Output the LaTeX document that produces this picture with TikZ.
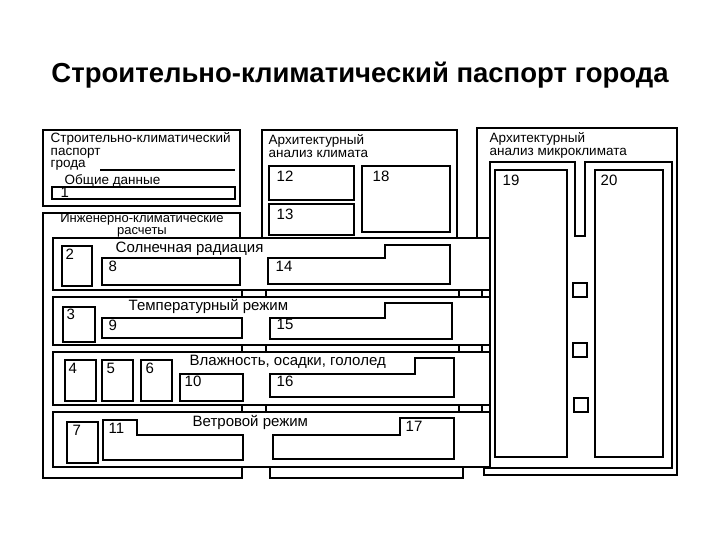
\documentclass[tikz,border=0pt]{standalone}
\usepackage{fontspec}
\setmainfont{Liberation Sans}
\begin{document}
\begin{tikzpicture}[x=1pt,y=-1pt,line width=1.4pt,
  lbl/.style={inner sep=0pt,anchor=north west,font=\fontsize{13.5}{12.5}\selectfont},
  rlbl/.style={inner sep=0pt,anchor=north west,font=\fontsize{15}{15}\selectfont},
  num/.style={inner sep=0pt,anchor=north west,font=\fontsize{15}{15}\selectfont}]
\useasboundingbox (0,0) rectangle (720,540);
\node[inner sep=0pt,font=\bfseries\fontsize{27.5}{30}\selectfont] (title) at (360,75) {Строительно-климатический паспорт города};
% Box A
\draw (43,130) rectangle (240,206);
\node[lbl,align=left] (ta) at (50,132) {Строительно-климатический\\паспорт\\грода};
\draw (100,170) -- (235,170);
\node[lbl] (od) at (64,174) {Общие данные};
\draw (52,187) rectangle (235,199);
\node[num] (n1) at (60,186) {1};
% Box B
\draw (262,238) -- (262,130) -- (457,130) -- (457,238) -- (477,238) -- (477,128) -- (677,128) -- (677,475) -- (484,475) -- (484,468);
\node[lbl,align=left] (tb) at (268,134) {Архитектурный\\анализ климата};
\draw (269,166) rectangle (354,200); \node[num] (n12) at (276,170) {12};
\draw (269,204) rectangle (354,235); \node[num] (n13) at (276,208) {13};
\draw (362,166) rectangle (450,232); \node[num] (n18) at (372,170) {18};
% Box C
\node[lbl,align=left] (tc) at (489,132) {Архитектурный\\анализ микроклимата};
\draw (490,460) -- (490,162) -- (575,162) -- (575,236) -- (585,236) -- (585,162) -- (672,162) -- (672,468) -- (484,468);
\draw (495,170) rectangle (567,457); \node[num] (n19) at (502,174) {19};
\draw (595,170) rectangle (663,457); \node[num] (n20) at (600,174) {20};
\draw (573,283) rectangle (587,297);
\draw (573,343) rectangle (587,357);
\draw (574,398) rectangle (588,412);
% Box D
\draw (240,238) -- (240,213) -- (43,213) -- (43,478) -- (242,478) -- (242,467);
\node[inner sep=0pt,align=center,font=\fontsize{13}{12}\selectfont] (td) at (142,225) {Инженерно-климатические\\расчеты};
% connecting bars
\foreach \y in {290,345,405}{
  \draw (242,\y) rectangle (266,\y+7);
  \draw (266,\y) rectangle (459,\y+7);
  \draw (459,\y) rectangle (482,\y+7);
  \draw (482,\y) rectangle (490,\y+7);
}
\draw (270,467) rectangle (463,478);
% Row 1
\draw (53,238) rectangle (490,290);
\draw (62,246) rectangle (92,286); \node[num] (n2) at (65,248) {2};
\draw (102,258) rectangle (240,285); \node[num] (n8) at (108,260) {8};
\draw (268,258) -- (385,258) -- (385,245) -- (450,245) -- (450,284) -- (268,284) -- cycle; \node[num] (n14) at (275,260) {14};
\node[rlbl] (r1) at (115,241) {Солнечная радиация};
% Row 2
\draw (53,297) rectangle (490,345);
\draw (63,307) rectangle (95,342); \node[num] (n3) at (66,308) {3};
\draw (102,318) rectangle (242,338); \node[num] (n9) at (108,319) {9};
\draw (270,318) -- (385,318) -- (385,303) -- (452,303) -- (452,339) -- (270,339) -- cycle; \node[num] (n15) at (276,318) {15};
\node[rlbl] (r2) at (128,299) {Температурный режим};
% Row 3
\draw (53,352) rectangle (490,405);
\draw (65,360) rectangle (96,401); \node[num] (n4) at (68,362) {4};
\draw (102,360) rectangle (133,401); \node[num] (n5) at (106,362) {5};
\draw (141,360) rectangle (172,401); \node[num] (n6) at (145,362) {6};
\draw (180,374) rectangle (243,401); \node[num] (n10) at (184,375) {10};
\draw (270,374) -- (415,374) -- (415,358) -- (454,358) -- (454,397) -- (270,397) -- cycle; \node[num] (n16) at (276,375) {16};
\node[rlbl] (r3) at (189,354) {Влажность, осадки, гололед};
% Row 4
\draw (53,412) rectangle (490,467);
\draw (67,422) rectangle (98,463); \node[num] (n7) at (72,424) {7};
\draw (103,420) -- (137,420) -- (137,435) -- (243,435) -- (243,460) -- (103,460) -- cycle; \node[num] (n11) at (108,422) {11};
\draw (273,435) -- (400,435) -- (400,418) -- (454,418) -- (454,459) -- (273,459) -- cycle; \node[num] (n17) at (405,420) {17};
\node[rlbl] (r4) at (192,415) {Ветровой режим};
\end{tikzpicture}
\end{document}
